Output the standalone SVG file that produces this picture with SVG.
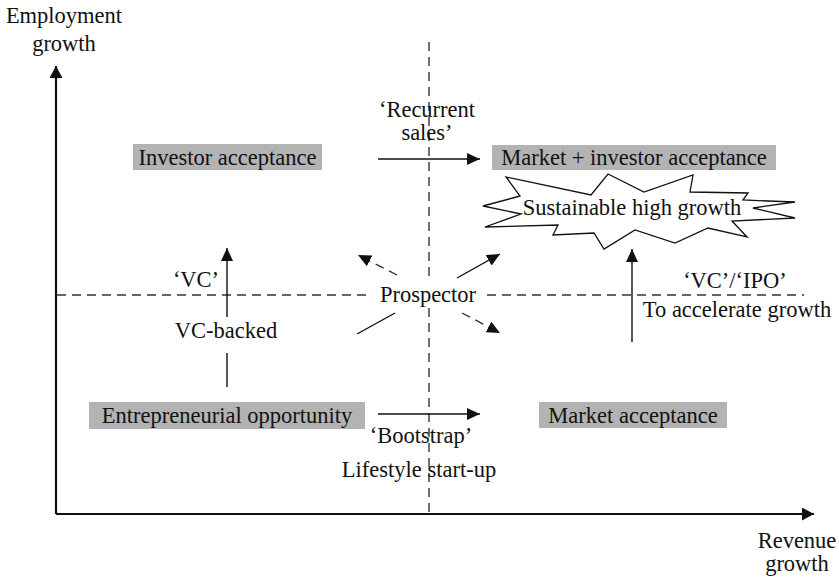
<svg xmlns="http://www.w3.org/2000/svg" width="839" height="577" viewBox="0 0 839 577" font-family="'Liberation Serif', 'Times New Roman', serif">
<style>
text{font-family:'Liberation Serif','Times New Roman',serif;font-size:22.5px;fill:#111}
.box{fill:#b3b3b3}
.dash{stroke:#333;stroke-width:1.4;stroke-dasharray:9,6;fill:none}
.ln{stroke:#111;stroke-width:1.4;fill:none}
.axis{stroke:#111;stroke-width:2.2;fill:none}
</style>
<defs>
<marker id="ah" markerUnits="userSpaceOnUse" markerWidth="14" markerHeight="12" refX="13" refY="6" orient="auto"><path d="M0,0 L13,6 L0,12 z" fill="#111"/></marker>
<marker id="axh" markerUnits="userSpaceOnUse" markerWidth="14" markerHeight="14" refX="12" refY="6.5" orient="auto"><path d="M0,0 L12,6.5 L0,13 z" fill="#111"/></marker>
</defs>
<g id="axes">
<path class="axis" d="M56,514 L56,66" marker-end="url(#axh)"/>
<path class="axis" d="M56,514 L814,514" marker-end="url(#axh)"/>
<text x="64" y="23" text-anchor="middle">Employment</text>
<text x="64" y="51" text-anchor="middle">growth</text>
<text x="797" y="548" text-anchor="middle">Revenue</text>
<text x="797" y="571" text-anchor="middle">growth</text>
</g>
<g id="quadrant-lines">
<path class="dash" d="M57,295 L367,295 M487,295 L804,295"/>
<path class="dash" d="M429,42 L429,278 M429,308 L429,514"/>
</g>
<g id="investor-acceptance">
<rect class="box" x="133" y="144" width="189" height="26"/>
<text x="227.5" y="165" text-anchor="middle">Investor acceptance</text>
</g>
<g id="market-investor-acceptance">
<rect class="box" x="492" y="145" width="284" height="25"/>
<text x="634" y="165" text-anchor="middle">Market + investor acceptance</text>
</g>
<g id="entrepreneurial-opportunity">
<rect class="box" x="89" y="402" width="276" height="27"/>
<text x="227" y="423" text-anchor="middle">Entrepreneurial opportunity</text>
</g>
<g id="market-acceptance">
<rect class="box" x="539" y="402" width="188" height="26"/>
<text x="633" y="423" text-anchor="middle">Market acceptance</text>
</g>
<g id="sustainable-high-growth">
<polygon points="483,206 520,196 506,177 591,195 608,174 644,192 693,175 690,192 748,193 743,200 795,202 753,208 795,218 732,221 747,237 708,228 675,243 635,230 604,249 594,233 553,235 558,225 485,227 521,214" fill="#fff" stroke="#111" stroke-width="1.3"/>
<text x="632" y="215" text-anchor="middle">Sustainable high growth</text>
</g>
<g id="prospector">
<text x="428" y="302" text-anchor="middle">Prospector</text>
</g>
<g id="connectors">
<path class="ln" d="M378,159 L480,159" marker-end="url(#ah)"/>
<path class="ln" d="M378,414 L480,414" marker-end="url(#ah)"/>
<path class="ln" d="M227,387 L227,353 M227,317 L227,248" marker-end="url(#ah)"/>
<path class="ln" d="M632,342 L632,249" marker-end="url(#ah)"/>
<path class="dash" d="M397,275 L358,255" marker-end="url(#ah)"/>
<path class="ln" d="M457,278 L500,254" marker-end="url(#ah)"/>
<path class="ln" d="M395,313 L357,334"/>
<path class="dash" d="M462,313 L500,333" marker-end="url(#ah)"/>
</g>
<g id="labels">
<text x="427" y="117" text-anchor="middle">‘Recurrent</text>
<text x="427" y="140" text-anchor="middle">sales’</text>
<text x="421" y="443" text-anchor="middle">‘Bootstrap’</text>
<text x="419" y="477" text-anchor="middle">Lifestyle start-up</text>
<text x="196" y="287" text-anchor="middle">‘VC’</text>
<text x="226" y="338" text-anchor="middle">VC-backed</text>
<text x="735" y="288" text-anchor="middle">‘VC’/‘IPO’</text>
<text x="737" y="317" text-anchor="middle">To accelerate growth</text>
</g>
</svg>
